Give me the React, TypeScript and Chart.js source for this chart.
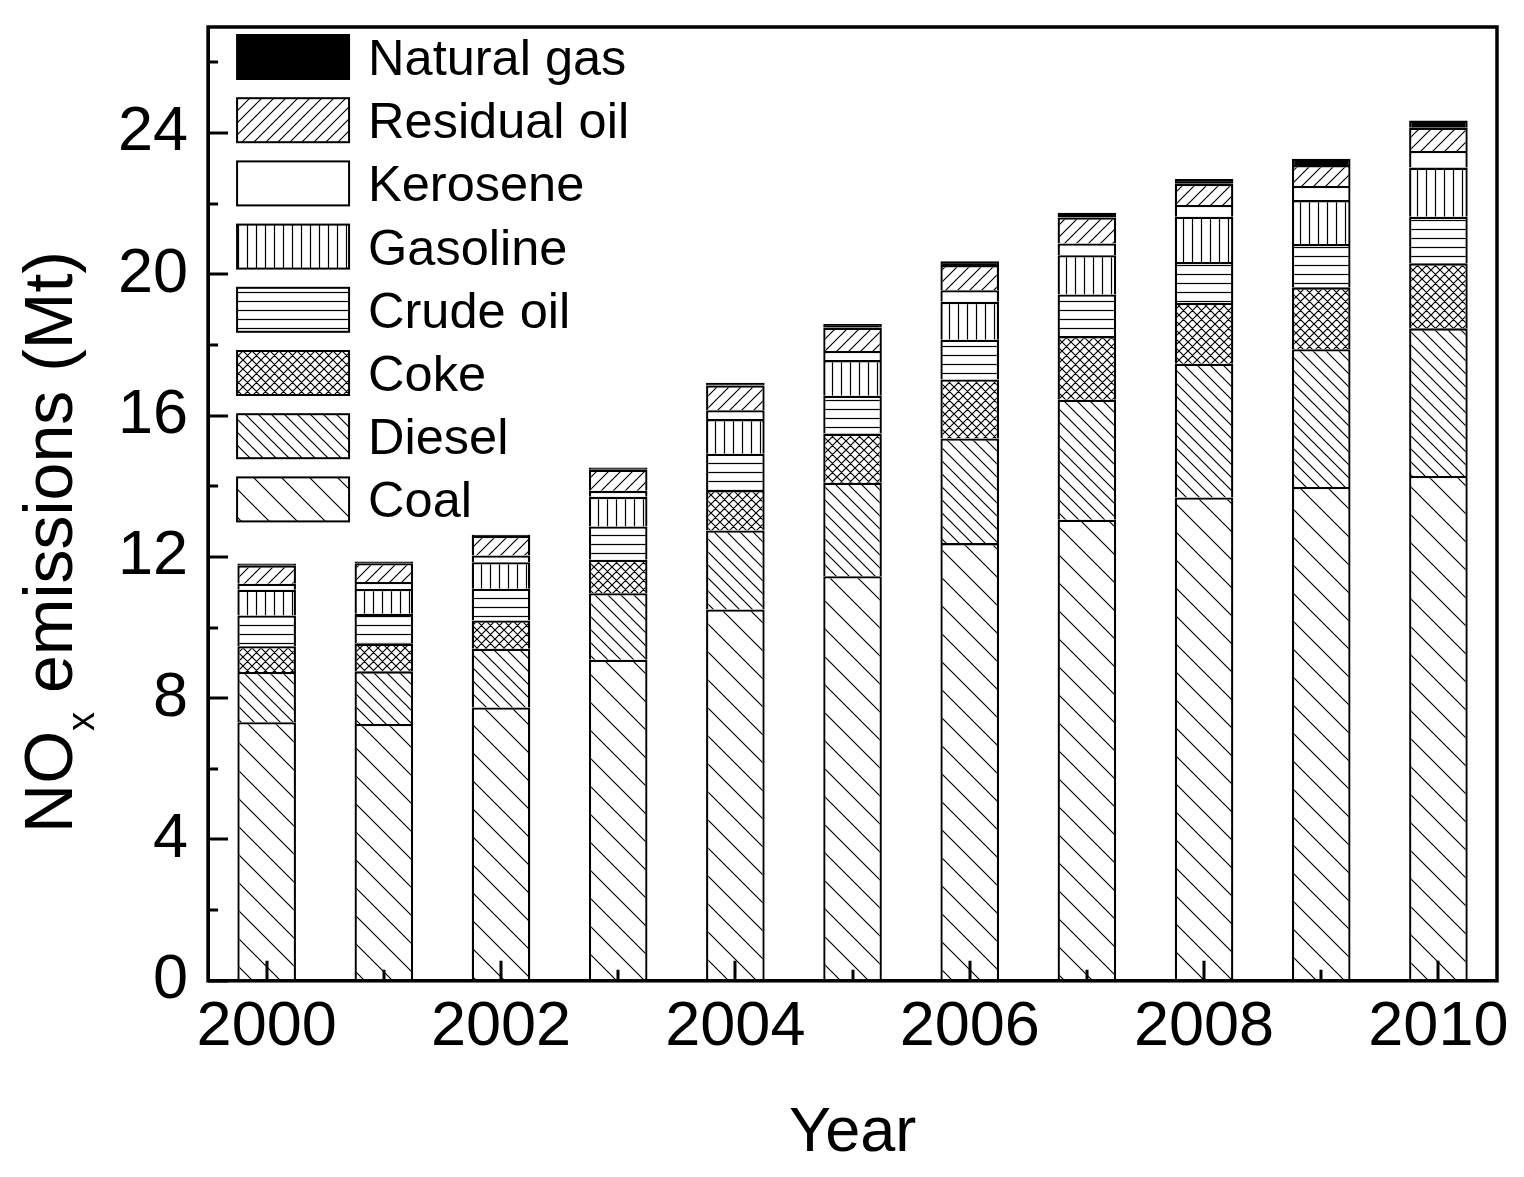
import React, { useEffect, useRef } from 'react';
import { Chart, registerables } from 'chart.js';

Chart.register(...registerables);

const categories = ['2000', '2001', '2002', '2003', '2004', '2005', '2006', '2007', '2008', '2009', '2010'];
const coal = [7.32, 7.27, 7.74, 9.09, 10.51, 11.45, 12.39, 13.05, 13.68, 13.98, 14.29];
const diesel = [1.42, 1.49, 1.66, 1.88, 2.24, 2.65, 2.96, 3.4, 3.79, 3.9, 4.18];
const coke = [0.73, 0.78, 0.8, 0.95, 1.14, 1.39, 1.67, 1.8, 1.72, 1.75, 1.84];
const crudeOil = [0.87, 0.85, 0.9, 0.94, 1.03, 1.07, 1.13, 1.18, 1.16, 1.23, 1.32];
const gasoline = [0.73, 0.7, 0.75, 0.84, 0.98, 1.01, 1.07, 1.11, 1.28, 1.24, 1.39];
const kerosene = [0.17, 0.2, 0.19, 0.17, 0.25, 0.26, 0.33, 0.33, 0.33, 0.4, 0.47];
const residualOil = [0.52, 0.53, 0.55, 0.6, 0.7, 0.66, 0.71, 0.74, 0.6, 0.59, 0.66];
const naturalGas = [0.05, 0.05, 0.04, 0.06, 0.08, 0.1, 0.11, 0.13, 0.14, 0.18, 0.2];

const seriesNames = ['Coal', 'Diesel', 'Coke', 'Crude oil', 'Gasoline', 'Kerosene', 'Residual oil', 'Natural gas'];
const yMajorTicks = [0, 4, 8, 12, 16, 20, 24];
const yMinorTicks = [2, 6, 10, 14, 18, 22, 26];

const FONT = '"Liberation Sans", Arial, Helvetica, sans-serif';

type Kind = 'back' | 'fwd' | 'cross' | 'horiz' | 'vert';

function makePattern(kind: Kind, s: number): CanvasPattern | string {
  const c = document.createElement('canvas');
  c.width = s;
  c.height = s;
  const g = c.getContext('2d');
  if (!g) return '#fff';
  g.fillStyle = '#fff';
  g.fillRect(0, 0, s, s);
  g.strokeStyle = '#000';
  g.lineWidth = 1.2;
  g.beginPath();
  if (kind === 'back' || kind === 'cross') {
    for (const k of [-1, 0, 1]) {
      g.moveTo(-1, -1 + k * s);
      g.lineTo(s + 1, s + 1 + k * s);
    }
  }
  if (kind === 'fwd' || kind === 'cross') {
    for (const k of [0, 1, 2]) {
      g.moveTo(-1, k * s + 1);
      g.lineTo(s + 1, k * s - s - 1);
    }
  }
  if (kind === 'horiz') {
    g.moveTo(0, s / 2);
    g.lineTo(s, s / 2);
  }
  if (kind === 'vert') {
    g.moveTo(s / 2, 0);
    g.lineTo(s / 2, s);
  }
  g.stroke();
  const p = g.createPattern(c, 'repeat');
  return p || '#fff';
}

const framePlugin = {
  id: 'frameAndTicks',
  afterDatasetsDraw(chart: any) {
    const { ctx, chartArea } = chart;
    const xs = chart.scales.x;
    const ys = chart.scales.y;
    ctx.save();
    ctx.strokeStyle = '#000';
    ctx.lineWidth = 3;
    ctx.lineCap = 'butt';
    ctx.beginPath();
    categories.forEach((_, i) => {
      const px = Math.round(xs.getPixelForTick(i));
      const len = i % 2 === 0 ? 20 : 11;
      ctx.moveTo(px, chartArea.bottom);
      ctx.lineTo(px, chartArea.bottom - len);
    });
    yMajorTicks.forEach((v) => {
      const py = Math.round(ys.getPixelForValue(v));
      ctx.moveTo(chartArea.left, py);
      ctx.lineTo(chartArea.left + 20, py);
    });
    yMinorTicks.forEach((v) => {
      const py = Math.round(ys.getPixelForValue(v));
      ctx.moveTo(chartArea.left, py);
      ctx.lineTo(chartArea.left + 10, py);
    });
    ctx.stroke();
    ctx.lineWidth = 3.5;
    ctx.strokeRect(chartArea.left, chartArea.top, chartArea.right - chartArea.left, chartArea.bottom - chartArea.top);
    ctx.restore();
  },
  afterDraw(chart: any) {
    const { ctx, chartArea } = chart;
    ctx.save();
    // legend (top item = last dataset)
    const boxW = 112;
    const boxH = 44;
    const pitch = 63.2;
    const x0 = chartArea.left + 29;
    const y0 = chartArea.top + 8;
    const ds = chart.data.datasets;
    for (let r = 0; r < ds.length; r++) {
      const d = ds[ds.length - 1 - r];
      const by = y0 + r * pitch;
      ctx.fillStyle = d.backgroundColor;
      ctx.fillRect(x0, by, boxW, boxH);
      ctx.strokeStyle = '#000';
      ctx.lineWidth = 2;
      ctx.strokeRect(x0, by, boxW, boxH);
      ctx.fillStyle = '#000';
      ctx.font = `50.5px ${FONT}`;
      ctx.textAlign = 'left';
      ctx.textBaseline = 'alphabetic';
      ctx.fillText(d.label, x0 + 131, by + 40);
    }
    // y-axis title with subscript
    const main = `68px ${FONT}`;
    const sub = `38px ${FONT}`;
    ctx.font = main;
    const w1 = ctx.measureText('NO').width;
    const w3 = ctx.measureText(' emissions (Mt)').width;
    ctx.font = sub;
    const w2 = ctx.measureText('x').width;
    const total = w1 + w2 + w3;
    const cy = 542;
    const bx = 72;
    ctx.translate(bx, cy);
    ctx.rotate(-Math.PI / 2);
    ctx.fillStyle = '#000';
    ctx.textAlign = 'left';
    ctx.textBaseline = 'alphabetic';
    let x = -total / 2;
    ctx.font = main;
    ctx.fillText('NO', x, 0);
    x += w1;
    ctx.font = sub;
    ctx.fillText('x', x, 22);
    x += w2;
    ctx.font = main;
    ctx.fillText(' emissions (Mt)', x, 0);
    ctx.restore();
  },
};

export default function App() {
  const ref = useRef<HTMLCanvasElement | null>(null);

  useEffect(() => {
    const canvas = ref.current;
    if (!canvas) return;
    const fills: (CanvasPattern | string)[] = [
      makePattern('back', 28),
      makePattern('back', 13),
      makePattern('cross', 9),
      makePattern('horiz', 9),
      makePattern('vert', 9),
      '#ffffff',
      makePattern('fwd', 12),
      '#000000',
    ];
    const values = [coal, diesel, coke, crudeOil, gasoline, kerosene, residualOil, naturalGas];
    const chart = new Chart(canvas, {
      type: 'bar',
      data: {
        labels: categories,
        datasets: values.map((v, i) => ({
          label: seriesNames[i],
          data: v,
          backgroundColor: fills[i] as any,
          borderColor: '#000',
          borderWidth: 2.3,
          barPercentage: 0.5,
          categoryPercentage: 1,
        })),
      },
      options: {
        animation: false,
        responsive: false,
        devicePixelRatio: 1,
        layout: { padding: { left: 98, top: 27, right: 27, bottom: 0 } },
        plugins: {
          legend: { display: false },
          tooltip: { enabled: false },
        },
        scales: {
          x: {
            stacked: true,
            offset: true,
            grid: { display: false, drawTicks: false },
            border: { display: true, color: '#000', width: 3 },
            ticks: {
              color: '#000',
              font: { family: FONT, size: 63 },
              padding: 9,
              autoSkip: false,
              maxRotation: 0,
              callback: (_v: any, i: number) => (i % 2 === 0 ? categories[i] : ''),
            },
            title: {
              display: true,
              text: 'Year',
              color: '#000',
              font: { family: FONT, size: 63 },
              padding: { top: 21, bottom: 6 },
            },
          },
          y: {
            stacked: true,
            min: 0,
            max: 27,
            grid: { display: false, drawTicks: false },
            border: { display: true, color: '#000', width: 3 },
            ticks: {
              stepSize: 4,
              includeBounds: false,
              color: '#000',
              font: { family: FONT, size: 63, lineHeight: 0.2 },
              padding: 20,
            },
          },
        },
      },
      plugins: [framePlugin],
    });
    return () => chart.destroy();
  }, []);

  return (
    <div style={{ position: 'absolute', left: 0, top: 0, width: 1524, height: 1177, background: '#fff' }}>
      <canvas ref={ref} width={1524} height={1177} style={{ width: 1524, height: 1177, display: 'block' }} />
    </div>
  );
}
